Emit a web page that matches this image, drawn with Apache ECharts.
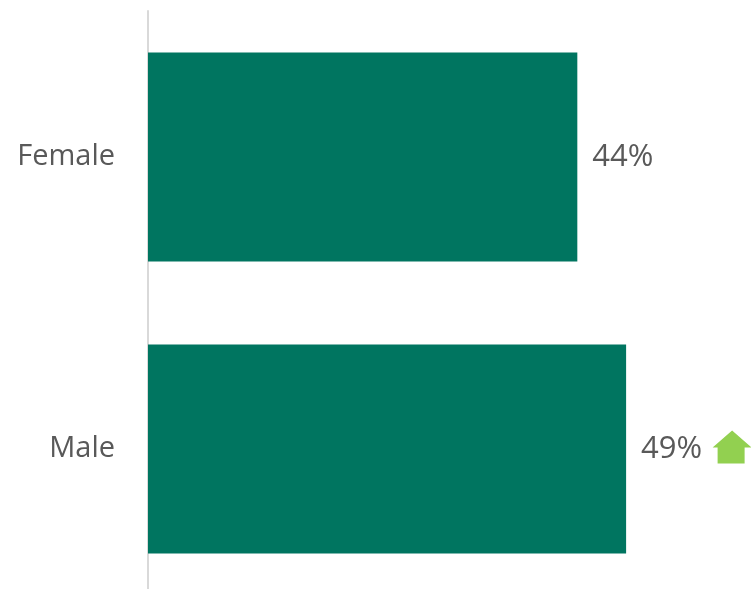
<!DOCTYPE html>
<html>
<head>
<meta charset="utf-8">
<script src="https://cdn.jsdelivr.net/npm/echarts@6/dist/echarts.min.js"></script>
<style>
  html, body { margin: 0; padding: 0; background: #fff; }
  #chart { width: 751px; height: 589px; }
</style>
</head>
<body>
<div id="chart"></div>
<script>
// data
var categories = ['Female', 'Male'];
var shares = [44, 49];
var trend = ['', 'up'];   // change marker per category

var myChart = echarts.init(document.getElementById('chart'));

var arrowData = [];
for (var i = 0; i < categories.length; i++) {
	if (trend[i] === 'up') {
		arrowData.push([shares[i], categories[i]]);
	}
}

var option = {
	animation: false,
	grid: { left: 148, right: 0, top: 11, height: 584, outerBoundsMode: 'none' },
	xAxis: {
		type: 'value',
		min: 0,
		max: 61.8,
		show: false
	},
	yAxis: {
		type: 'category',
		data: categories,
		inverse: true,
		axisLine: { show: true, lineStyle: { color: '#d9d9d9', width: 2 } },
		axisTick: { show: false },
		axisLabel: {
			margin: 33,
			fontSize: 29,
			color: '#595959',
			fontFamily: 'Open Sans'
		}
	},
	series: [
		{
			type: 'bar',
			data: shares,
			barWidth: 209,
			itemStyle: { color: '#007560' },
			label: {
				show: true,
				position: 'right',
				distance: 15,
				formatter: '{c}%',
				fontSize: 31,
				color: '#595959',
				fontFamily: 'Open Sans'
			}
		},
		{
			type: 'scatter',
			data: arrowData,
			symbol: 'path://M19.5,0 L39,17 L32,17 L32,33 L5,33 L5,17 L0,17 Z',
			symbolSize: [39, 33],
			symbolOffset: [106, -2],
			itemStyle: { color: '#92d050', opacity: 1 },
			z: 5
		}
	]
};

myChart.setOption(option);

window.onresize = function() {
	myChart.resize();
};
</script>
</body>
</html>
